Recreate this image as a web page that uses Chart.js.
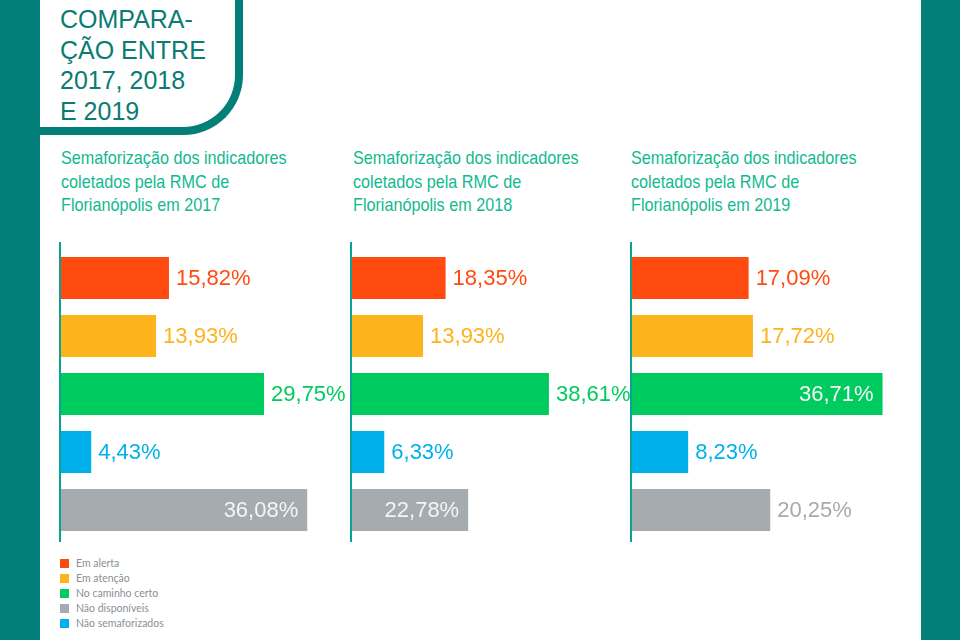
<!DOCTYPE html>
<html>
<head>
<meta charset="utf-8">
<script src="https://cdn.jsdelivr.net/npm/chart.js@4"></script>
<style>
  html, body { margin:0; padding:0; background:#ffffff; }
  body { width:960px; height:640px; position:relative; overflow:hidden; font-family:"Liberation Sans", Arial, sans-serif; }
  .strip { position:absolute; top:0; height:640px; background:#017f78; }
  #headbox { position:absolute; left:-10px; top:-20px; width:245px; height:147px;
    border-right:8px solid #017f78; border-bottom:8px solid #017f78;
    border-bottom-right-radius:60px; background:#fff; }
  #head { position:absolute; left:60px; top:4px; font-size:25px; line-height:30.5px; color:#0a7c73; margin:0; font-weight:normal; }
  .sub { position:absolute; top:146px; font-size:18.6px; line-height:23.5px; color:#12b98f; transform-origin:0 0; transform:scaleX(0.87); white-space:nowrap; }
  .box { position:absolute; top:242px; height:300px; }
  #legend { position:absolute; left:60px; top:556px; font-family:Lato, "Open Sans", sans-serif; font-size:10.5px; color:#8b9095; }
  #legend div { height:15px; line-height:15px; position:relative; padding-left:16px; white-space:nowrap; }
  #legend span { position:absolute; left:0; top:3px; width:9px; height:9px; }
</style>
</head>
<body>
<div id="headbox"></div>
<div class="strip" style="left:0;width:40px"></div>
<div class="strip" style="left:921px;width:39px"></div>
<div id="head">COMPARA-<br>ÇÃO ENTRE<br>2017, 2018<br>E 2019</div>

<div class="sub" id="sub0" style="left:61px"></div>
<div class="sub" id="sub1" style="left:353px"></div>
<div class="sub" id="sub2" style="left:631px"></div>

<div class="box" id="b0" style="left:58px;width:306px"><canvas id="c0"></canvas></div>
<div class="box" id="b1" style="left:349px;width:292px"><canvas id="c1"></canvas></div>
<div class="box" id="b2" style="left:629px;width:286px"><canvas id="c2"></canvas></div>

<div id="legend"></div>

<script>
// ---- data ----
const categories = ['Em alerta', 'Em atenção', 'No caminho certo', 'Não semaforizados', 'Não disponíveis'];
const values2017 = [15.82, 13.93, 29.75, 4.43, 36.08];
const values2018 = [18.35, 13.93, 38.61, 6.33, 22.78];
const values2019 = [17.09, 17.72, 36.71, 8.23, 20.25];
const years = ['2017', '2018', '2019'];
const legendLabels = ['Em alerta', 'Em atenção', 'No caminho certo', 'Não disponíveis', 'Não semaforizados'];

// ---- styles ----
const colorByCat = {
  'Em alerta': '#ff4b10',
  'Em atenção': '#fdb31b',
  'No caminho certo': '#00cb5e',
  'Não semaforizados': '#00b0ea',
  'Não disponíveis': '#a5abaf'
};
const barColors = categories.map(c => colorByCat[c]);
const teal = '#0aa197';

const charts = [
  { id: 'c0', values: values2017, max: 40, pad: 30, inside: 'Não disponíveis' },
  { id: 'c1', values: values2018, max: 40, pad: 85, inside: 'Não disponíveis' },
  { id: 'c2', values: values2019, max: 40, pad: 10, inside: 'No caminho certo' }
];

// subtitles
years.forEach((y, i) => {
  document.getElementById('sub' + i).innerHTML =
    'Semaforização dos indicadores<br>coletados pela RMC de<br>Florianópolis em ' + y;
});

// legend
const lg = document.getElementById('legend');
legendLabels.forEach(l => {
  const d = document.createElement('div');
  const s = document.createElement('span');
  s.style.background = colorByCat[l];
  d.appendChild(s);
  d.appendChild(document.createTextNode(l));
  lg.appendChild(d);
});

const fmt = v => v.toFixed(2).replace('.', ',') + '%';

// axis line extending slightly beyond the bar bands
const axisLine = {
  id: 'axisLine',
  beforeDatasetsDraw(chart) {
    const { ctx, chartArea } = chart;
    ctx.save();
    ctx.strokeStyle = teal;
    ctx.lineWidth = 2;
    ctx.beginPath();
    ctx.moveTo(chartArea.left - 1, 0);
    ctx.lineTo(chartArea.left - 1, chart.height);
    ctx.stroke();
    ctx.restore();
  }
};

const valueLabels = {
  id: 'valueLabels',
  afterDatasetsDraw(chart, args, opts) {
    const ctx = chart.ctx;
    const meta = chart.getDatasetMeta(0);
    const data = chart.data.datasets[0].data;
    ctx.save();
    ctx.font = '22px "Liberation Sans", Arial, sans-serif';
    ctx.textBaseline = 'middle';
    meta.data.forEach((bar, i) => {
      const txt = fmt(data[i]);
      const cat = chart.data.labels[i];
      if (cat === opts.inside) {
        ctx.fillStyle = '#f4f6f6';
        ctx.textAlign = 'right';
        ctx.fillText(txt, bar.x - 9, bar.y + 1);
      } else {
        ctx.fillStyle = colorByCat[cat];
        ctx.textAlign = 'left';
        ctx.fillText(txt, bar.x + 7, bar.y + 1);
      }
    });
    ctx.restore();
  }
};

charts.forEach(cfg => {
  new Chart(document.getElementById(cfg.id), {
    type: 'bar',
    data: {
      labels: categories,
      datasets: [{
        data: cfg.values,
        backgroundColor: barColors,
        borderWidth: 0,
        barPercentage: 0.725,
        categoryPercentage: 1
      }]
    },
    options: {
      indexAxis: 'y',
      responsive: true,
      maintainAspectRatio: false,
      animation: false,
      events: [],
      layout: { padding: { left: 3, right: cfg.pad, top: 7, bottom: 3 } },
      plugins: {
        legend: { display: false },
        tooltip: { enabled: false },
        title: { display: false },
        valueLabels: { inside: cfg.inside }
      },
      scales: {
        x: { display: false, min: 0, max: cfg.max },
        y: {
          display: true,
          ticks: { display: false },
          grid: { display: false, drawTicks: false },
          border: { display: false }
        }
      }
    },
    plugins: [axisLine, valueLabels]
  });
});
</script>
</body>
</html>
